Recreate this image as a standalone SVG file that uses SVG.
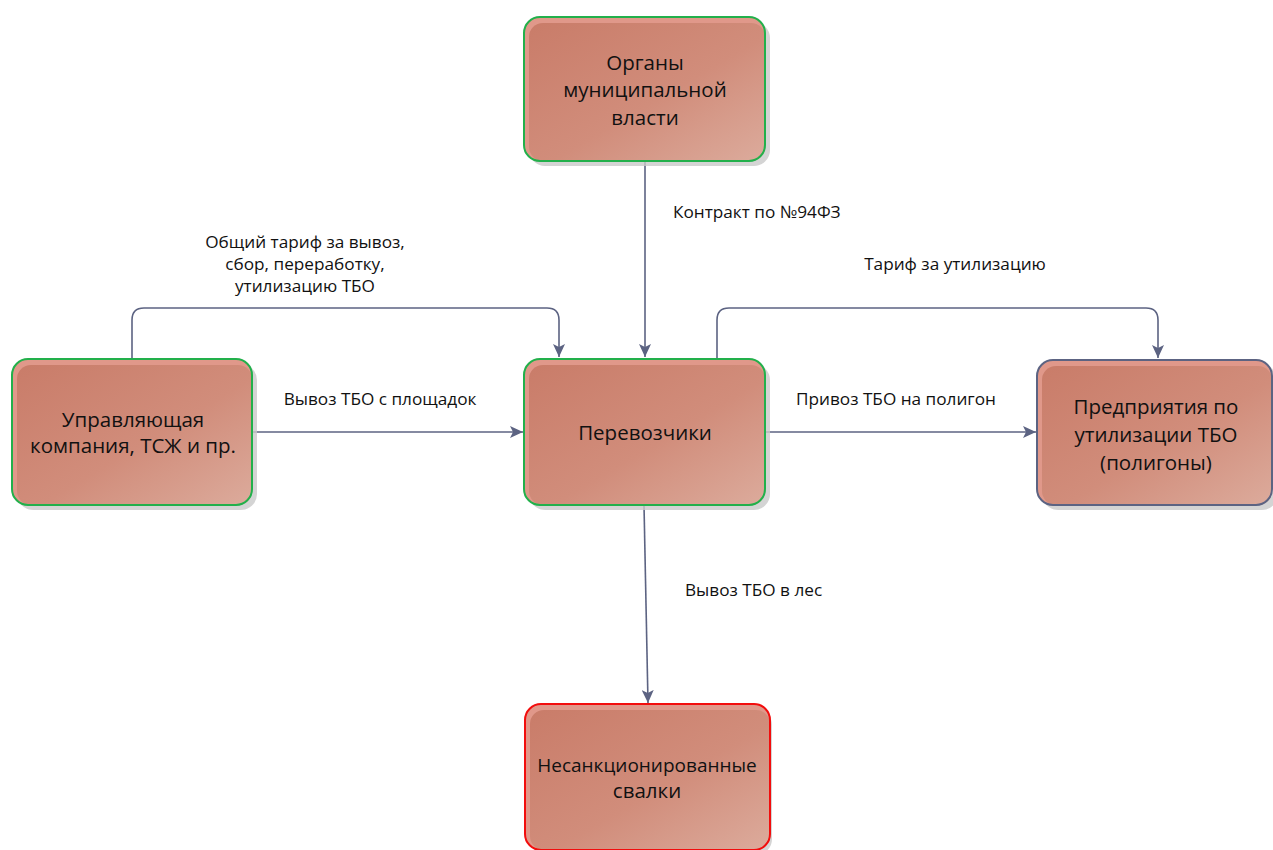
<svg xmlns="http://www.w3.org/2000/svg" width="1273" height="850" viewBox="0 0 1273 850">
<defs>
<linearGradient id="g" x1="0" y1="0" x2="1" y2="1">
<stop offset="0" stop-color="#c97c69"/>
<stop offset="0.55" stop-color="#d18d7b"/>
<stop offset="1" stop-color="#dcab9c"/>
</linearGradient>
<marker id="arr" markerUnits="userSpaceOnUse" markerWidth="14" markerHeight="12" viewBox="0 0 14 12" refX="13" refY="6" orient="auto">
<path d="M0,0 L13,6 L0,12 L3,6 Z" fill="#5c6382"/>
</marker>
<style>
.shadow{fill:#c9c9c9;opacity:0.8}
.rim{fill:#e0988a}
.body{fill:url(#g)}
.bd{fill:none;stroke-width:2}
.green{stroke:#22b04b}
.red{stroke:#f20d0d}
.slate{stroke:#5c6382}
.nt{font-family:"Open Sans","Noto Sans",sans-serif;font-size:20.5px;fill:#111;text-anchor:middle}
.lb{font-family:"Open Sans","Noto Sans",sans-serif;font-size:17.2px;fill:#111}
.c{text-anchor:middle}
.con{fill:none;stroke:#5c6382;stroke-width:1.6;marker-end:url(#arr)}
</style>
</defs>
<rect width="1273" height="850" fill="#fff"/>

<g id="connectors">
<path class="con" d="M645,162 L645,357"/>
<path class="con" d="M132,359 L132,320 Q132,308 144,308 L547,308 Q559,308 559,320 L559,357"/>
<path class="con" d="M717,359 L717,320 Q717,308 729,308 L1146,308 Q1158,308 1158,320 L1158,358"/>
<path class="con" d="M252,432 L523,432"/>
<path class="con" d="M765,432 L1036,432"/>
<path class="con" d="M644,505 L648,703"/>
</g>

<g id="labels">
<text class="lb" x="673" y="218">Контракт по №94ФЗ</text>
<text class="lb c" x="305" y="248">Общий тариф за вывоз,</text>
<text class="lb c" x="305" y="270">сбор, переработку,</text>
<text class="lb c" x="305" y="292">утилизацию ТБО</text>
<text class="lb c" x="955" y="270">Тариф за утилизацию</text>
<text class="lb c" x="380" y="405">Вывоз ТБО с площадок</text>
<text class="lb c" x="896" y="405">Привоз ТБО на полигон</text>
<text class="lb" x="685" y="596">Вывоз ТБО в лес</text>
</g>

<g id="node-organy">
<rect class="shadow" x="529" y="22" width="241" height="144" rx="16"/>
<rect class="rim" x="524" y="17" width="241" height="144" rx="16"/>
<rect class="body" x="529" y="23" width="236" height="138" rx="14"/>
<rect class="bd green" x="524" y="17" width="241" height="144" rx="16"/>
<text class="nt" x="645" y="70">Органы</text>
<text class="nt" x="645" y="97">муниципальной</text>
<text class="nt" x="645" y="125">власти</text>
</g>

<g id="node-uk">
<rect class="shadow" x="17" y="364" width="240" height="146" rx="16"/>
<rect class="rim" x="12" y="359" width="240" height="146" rx="16"/>
<rect class="body" x="17" y="365" width="235" height="140" rx="14"/>
<rect class="bd green" x="12" y="359" width="240" height="146" rx="16"/>
<text class="nt" x="133" y="427">Управляющая</text>
<text class="nt" x="133" y="453">компания, ТСЖ и пр.</text>
</g>

<g id="node-perevozchiki">
<rect class="shadow" x="529" y="364" width="241" height="146" rx="16"/>
<rect class="rim" x="524" y="359" width="241" height="146" rx="16"/>
<rect class="body" x="529" y="365" width="236" height="140" rx="14"/>
<rect class="bd green" x="524" y="359" width="241" height="146" rx="16"/>
<text class="nt" x="645" y="440">Перевозчики</text>
</g>

<g id="node-poligony">
<rect class="shadow" x="1042" y="365" width="236" height="145" rx="16"/>
<rect class="rim" x="1037" y="360" width="235" height="145" rx="16"/>
<rect class="body" x="1042" y="366" width="230" height="139" rx="14"/>
<rect class="bd slate" x="1037" y="360" width="235" height="145" rx="16"/>
<text class="nt" x="1156" y="414">Предприятия по</text>
<text class="nt" x="1156" y="442">утилизации ТБО</text>
<text class="nt" x="1156" y="470">(полигоны)</text>
</g>

<g id="node-svalki">
<rect class="shadow" x="530" y="709" width="242" height="146" rx="16"/>
<rect class="rim" x="525" y="704" width="245" height="146" rx="16"/>
<rect class="body" x="530" y="710" width="240" height="140" rx="14"/>
<rect class="bd red" x="525" y="704" width="245" height="146" rx="16"/>
<text class="nt" x="647" y="772" style="font-size:19px">Несанкционированные</text>
<text class="nt" x="647" y="798">свалки</text>
</g>
</svg>
